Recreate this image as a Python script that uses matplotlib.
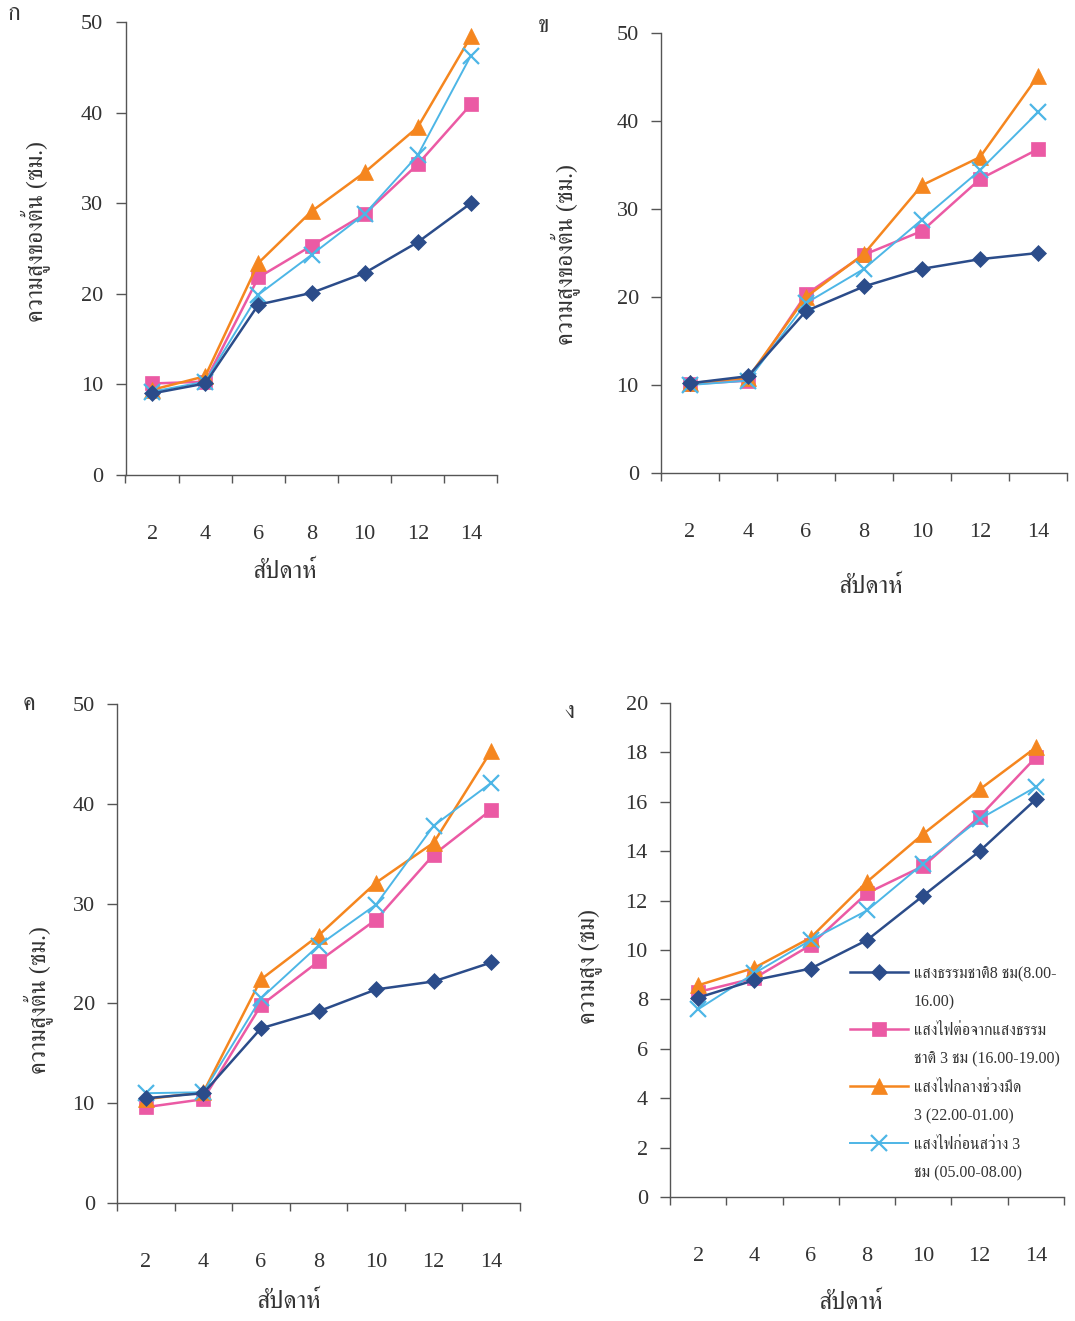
import matplotlib
matplotlib.use("Agg")
import matplotlib.pyplot as plt
import numpy as np
from matplotlib.lines import Line2D

weeks = ["2", "4", "6", "8", "10", "12", "14"]

series_names = [
    "แสงธรรมชาติ8 ชม(8.00-",
    "แสงไฟต่อจากแสงธรรม",
    "แสงไฟกลางช่วงมืด",
    "แสงไฟก่อนสว่าง 3",
]
series_names2 = ["16.00)", "ชาติ 3 ชม (16.00-19.00)", "3 (22.00-01.00)", "ชม (05.00-08.00)"]

a_natural = [9.0, 10.1, 18.8, 20.1, 22.3, 25.7, 30.0]
a_before = [10.1, 10.3, 21.8, 25.3, 28.8, 34.3, 40.9]
a_middle = [9.4, 10.9, 23.4, 29.1, 33.4, 38.4, 48.4]
a_dawn = [9.2, 10.3, 19.9, 24.3, 28.8, 35.3, 46.3]

b_natural = [10.2, 11.0, 18.4, 21.2, 23.2, 24.3, 25.0]
b_before = [10.1, 10.5, 20.3, 24.8, 27.5, 33.4, 36.8]
b_middle = [10.2, 10.8, 20.0, 24.9, 32.7, 35.9, 45.1]
b_dawn = [10.0, 10.5, 19.3, 23.2, 28.8, 34.4, 41.0]

c_natural = [10.5, 11.0, 17.5, 19.2, 21.4, 22.2, 24.1]
c_before = [9.6, 10.4, 19.8, 24.2, 28.4, 34.9, 39.4]
c_middle = [10.4, 11.1, 22.4, 26.8, 32.1, 36.1, 45.3]
c_dawn = [11.0, 11.1, 20.5, 25.8, 29.9, 37.8, 42.1]

d_natural = [8.07, 8.78, 9.25, 10.4, 12.2, 14.0, 16.1]
d_before = [8.3, 8.86, 10.2, 12.3, 13.4, 15.4, 17.8]
d_middle = [8.57, 9.28, 10.5, 12.76, 14.7, 16.5, 18.2]
d_dawn = [7.6, 9.06, 10.4, 11.6, 13.5, 15.3, 16.6]

panel_labels = ["ก", "ข", "ค", "ง"]
ylabels = ["ความสูงของต้น (ซม.)", "ความสูงของต้น (ซม.)", "ความสูงต้น (ซม.)", "ความสูง (ซม)"]
xlabel = "สัปดาห์"

FAM = ['Liberation Serif', 'FreeSerif', 'DejaVu Sans']
plt.rcParams['font.family'] = FAM

colors = ['#2B4C8A', '#EB5AA4', '#F5861F', '#4DB6E6']
markers = ['D', 's', '^', 'x']
msizes = [8.5, 10, 11, 11]

W, H = 1075, 1321
fig = plt.figure(figsize=(W / 100, H / 100), dpi=100)
fig.patch.set_facecolor('white')

# (left, right, top, bottom) pixel boxes
boxes = [(125.5, 497.5, 22, 475), (661, 1067, 33, 473), (117, 520, 704, 1203), (670, 1064, 703, 1197)]
ymaxes = [50, 50, 50, 20]
ysteps = [10, 10, 10, 2]
datasets = [
    [a_natural, a_before, a_middle, a_dawn],
    [b_natural, b_before, b_middle, b_dawn],
    [c_natural, c_before, c_middle, c_dawn],
    [d_natural, d_before, d_middle, d_dawn],
]
ylab_pos = [(35, 232), (565, 255), (38, 1000), (590, 967)]
xlab_pos = [(285, 572), (871, 587), (289, 1302), (851, 1303)]
panel_pos = [(14, 15), (543, 26), (29, 704), (569, 713)]

textc = '#333333'
axes = []
for i, (l, r, t, b) in enumerate(boxes):
    ax = fig.add_axes([l / W, 1 - b / H, (r - l) / W, (b - t) / H])
    axes.append(ax)
    x = np.arange(len(weeks))
    for s, vals in enumerate(datasets[i]):
        ax.plot(x, vals, color=colors[s], marker=markers[s], ms=msizes[s],
                lw=1.8 if s != 3 else 1.4, mew=1.6 if s == 3 else 0.5,
                mec=colors[s], mfc=colors[s], clip_on=False, zorder=3 + (1 if s == 0 else 0),
                label=series_names[s])
    ax.set_xlim(-0.5, len(weeks) - 0.5)
    ax.set_ylim(0, ymaxes[i])
    ax.set_yticks(np.arange(0, ymaxes[i] + 0.1, ysteps[i]))
    ax.set_xticks(x)
    ax.set_xticklabels(weeks)
    ax.set_xticks(np.arange(-0.5, len(weeks), 1.0), minor=True)
    ax.tick_params(axis='x', which='major', length=0, pad=36, labelsize=16, labelcolor=textc)
    ax.tick_params(axis='x', which='minor', length=6, width=1, color='#555555', direction='out')
    ax.tick_params(axis='y', length=7, width=1, color='#555555', pad=9, labelsize=16, labelcolor=textc)
    for sp in ['top', 'right']:
        ax.spines[sp].set_visible(False)
    for sp in ['left', 'bottom']:
        ax.spines[sp].set_color('#555555')
        ax.spines[sp].set_linewidth(1.0)
    fig.text(ylab_pos[i][0] / W, 1 - ylab_pos[i][1] / H, ylabels[i], rotation=90,
             ha='center', va='center', fontsize=17, color=textc)
    fig.text(xlab_pos[i][0] / W, 1 - xlab_pos[i][1] / H, xlabel,
             ha='center', va='center', fontsize=18, color=textc)
    fig.text(panel_pos[i][0] / W, 1 - panel_pos[i][1] / H, panel_labels[i],
             ha='center', va='center', fontsize=17, color=textc)

# legend in panel ง with continuation lines
axd = axes[3]
handles, _ = axd.get_legend_handles_labels()
blank = Line2D([], [], color='none')
hs, ls = [], []
for s in range(4):
    hs += [handles[s], blank]
    ls += [series_names[s], series_names2[s]]
fig.legend(hs, ls, loc='upper left', bbox_to_anchor=(850 / W, 1 - 966 / H),
           frameon=False, fontsize=11.5, handlelength=3.6, handletextpad=0.4,
           labelspacing=0.78, borderpad=0, borderaxespad=0, labelcolor=textc)

fig.savefig("out.png", dpi=100)
